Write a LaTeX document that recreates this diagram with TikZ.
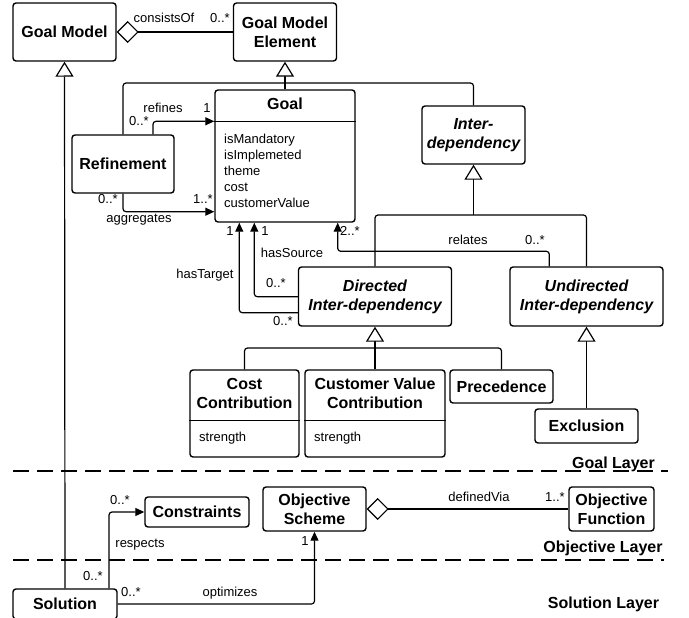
\documentclass[tikz,border=0pt]{standalone}
\usepackage{fontspec}
\setmainfont{Liberation Sans}
\usetikzlibrary{arrows.meta,calc}
\newcommand\ttlfnt{\fontsize{16}{19}\selectfont\bfseries}
\newcommand\lblfnt{\fontsize{13}{16}\selectfont}
\tikzset{
  box/.style={draw, line width=1.4pt, rounded corners=3pt, inner sep=0pt, align=center, font=\ttlfnt},
  ttl/.style={inner sep=0pt, align=center, font=\ttlfnt},
  conn/.style={line width=1.2pt, rounded corners=3pt},
  gen/.style={conn, -{Triangle[fill=white,length=15pt,width=18pt]}},
  assoc/.style={conn, -{Triangle[length=9pt,width=8pt]}},
  agg/.style={conn, -{Diamond[fill=white,length=22pt,width=22pt]}},
  lbl/.style={inner sep=0pt, font=\lblfnt, anchor=base},
  attr/.style={inner sep=0pt, font=\lblfnt, align=left},
  layer/.style={inner sep=0pt, font=\ttlfnt, anchor=base},
  sep/.style={line width=1.2pt, dash pattern=on 16pt off 8pt},
  divider/.style={line width=1.4pt}
}
\begin{document}
\begin{tikzpicture}[x=1pt,y=-1pt]
\useasboundingbox (0,0) rectangle (689,618);
\clip (0,0) rectangle (689,618);

% layer separators
\draw[sep] (13,471) -- (668,471);
\draw[sep] (13,560) -- (664,560);

% classes
\node[box, minimum width=103pt, minimum height=58pt] (gm) at (64.5,32) {Goal Model};
\node[box, minimum width=103pt, minimum height=58pt] (gme) at (285,32) {Goal Model\\Element};
\node[box, minimum width=140pt, minimum height=132pt] (goal) at (285,156) {};
\node[ttl] (goaltitle) at (285,104) {Goal};
\node[attr, anchor=north west] (goalattrs) at (224,133.5) {isMandatory\\isImplemeted\\theme\\cost\\customerValue};
\node[box, minimum width=102pt, minimum height=58pt] (ref) at (123,164) {Refinement};
\node[box, minimum width=103pt, minimum height=58pt, font=\ttlfnt\itshape] (inter) at (473.5,135) {Inter-\\dependency};
\node[box, minimum width=153pt, minimum height=59pt, font=\ttlfnt\itshape] (dir) at (375,296.5) {Directed\\Inter-dependency};
\node[box, minimum width=153pt, minimum height=59pt, font=\ttlfnt\itshape] (und) at (586.5,296.5) {Undirected\\Inter-dependency};
\node[box, minimum width=109pt, minimum height=87pt] (cost) at (244.5,413.5) {};
\node[ttl] (costtitle) at (244.5,393.5) {Cost\\Contribution};
\node[attr, anchor=base west] (costattr) at (199,441) {strength};
\node[box, minimum width=140pt, minimum height=87pt] (cvc) at (375,413.5) {};
\node[ttl] (cvctitle) at (375,393.5) {Customer Value\\Contribution};
\node[attr, anchor=base west] (cvcattr) at (314,441) {strength};
\node[box, minimum width=103pt, minimum height=33pt] (prec) at (501.5,386.5) {Precedence};
\node[box, minimum width=103pt, minimum height=34pt] (excl) at (586.5,426) {Exclusion};
\node[box, minimum width=104pt, minimum height=30pt] (cons) at (197,512) {Constraints};
\node[box, minimum width=103pt, minimum height=44pt] (os) at (314.5,509) {Objective\\Scheme};
\node[box, minimum width=85pt, minimum height=44pt] (of) at (611.5,509) {Objective\\Function};
\node[box, minimum width=104pt, minimum height=30pt] (sol) at (65,604) {Solution};

% compartment dividers
\draw[divider] ([yshift=-32pt]goal.north west) -- ([yshift=-32pt]goal.north east);
\draw[divider] ([yshift=-51pt]cost.north west) -- ([yshift=-51pt]cost.north east);
\draw[divider] ([yshift=-51pt]cvc.north west) -- ([yshift=-51pt]cvc.north east);

% layer labels
\node[layer] (lgoal) at (613.5,468) {Goal Layer};
\node[layer] (lobj) at (603,552) {Objective Layer};
\node[layer] (lsol) at (603.5,608) {Solution Layer};

% generalizations
\coordinate (bar1) at (285,83);
\draw[conn] (ref.north) |- (bar1) -| (inter.north);
\draw[gen] (goal.north) -- (gme.south);
\coordinate (bar2) at (473.5,215);
\draw[conn] (dir.north) |- (bar2) -| (und.north);
\draw[gen] (bar2) -- (inter.south);
\coordinate (bar3) at (375,348);
\draw[conn] (cost.north) |- (bar3) -| (prec.north);
\draw[gen] (cvc.north) -- (dir.south);
\draw[gen] (excl.north) -- (und.south);
\draw[gen] (sol.north) -- (gm.south);

% aggregations
\draw[agg] (gme.west) -- (gm.east);
\draw[agg] (of.west) -- (os.east);

% associations
\draw[assoc] ([xshift=30pt]ref.north) |- ([yshift=-32pt]goal.north west);
\draw[assoc] (ref.south) |- ([yshift=11pt]goal.south west);
\draw[assoc] ([yshift=14pt]dir.south west) -| ([xshift=25pt]goal.south west);
\draw[assoc] ([yshift=30pt]dir.south west) -| ([xshift=40pt]goal.south west);
\draw[assoc] ([xshift=40pt]und.north west) -- ++(0,-15) -| ([xshift=-18pt]goal.south east);
\draw[assoc] ([xshift=44pt]sol.north) |- (cons.west);
\draw[assoc] (sol.east) -| (os.south);

% labels
\node[lbl] (l1) at (164,22.5) {consistsOf};
\node[lbl] (l2) at (220,22.5) {0..*};
\node[lbl] (l3) at (163,113) {refines};
\node[lbl] (l4) at (207,113) {1};
\node[lbl] (l5) at (139,126) {0..*};
\node[lbl] (l6) at (108,204) {0..*};
\node[lbl] (l7) at (203,204) {1..*};
\node[lbl] (l8) at (139,222) {aggregates};
\node[lbl] (l9) at (230,235) {1};
\node[lbl] (l10) at (265,235) {1};
\node[lbl] (l11) at (350,235) {2..*};
\node[lbl] (l12) at (292,257) {hasSource};
\node[lbl] (l13) at (205,278) {hasTarget};
\node[lbl] (l14) at (276,287) {0..*};
\node[lbl] (l15) at (283,325) {0..*};
\node[lbl] (l16) at (468,244) {relates};
\node[lbl] (l17) at (535,244) {0..*};
\node[lbl] (l18) at (479,501) {definedVia};
\node[lbl] (l19) at (555,501) {1..*};
\node[lbl] (l20) at (120,504) {0..*};
\node[lbl] (l21) at (140,547) {respects};
\node[lbl] (l22) at (305,545) {1};
\node[lbl] (l23) at (93,580) {0..*};
\node[lbl] (l24) at (131,596) {0..*};
\node[lbl] (l25) at (230,596) {optimizes};
\end{tikzpicture}
\end{document}
